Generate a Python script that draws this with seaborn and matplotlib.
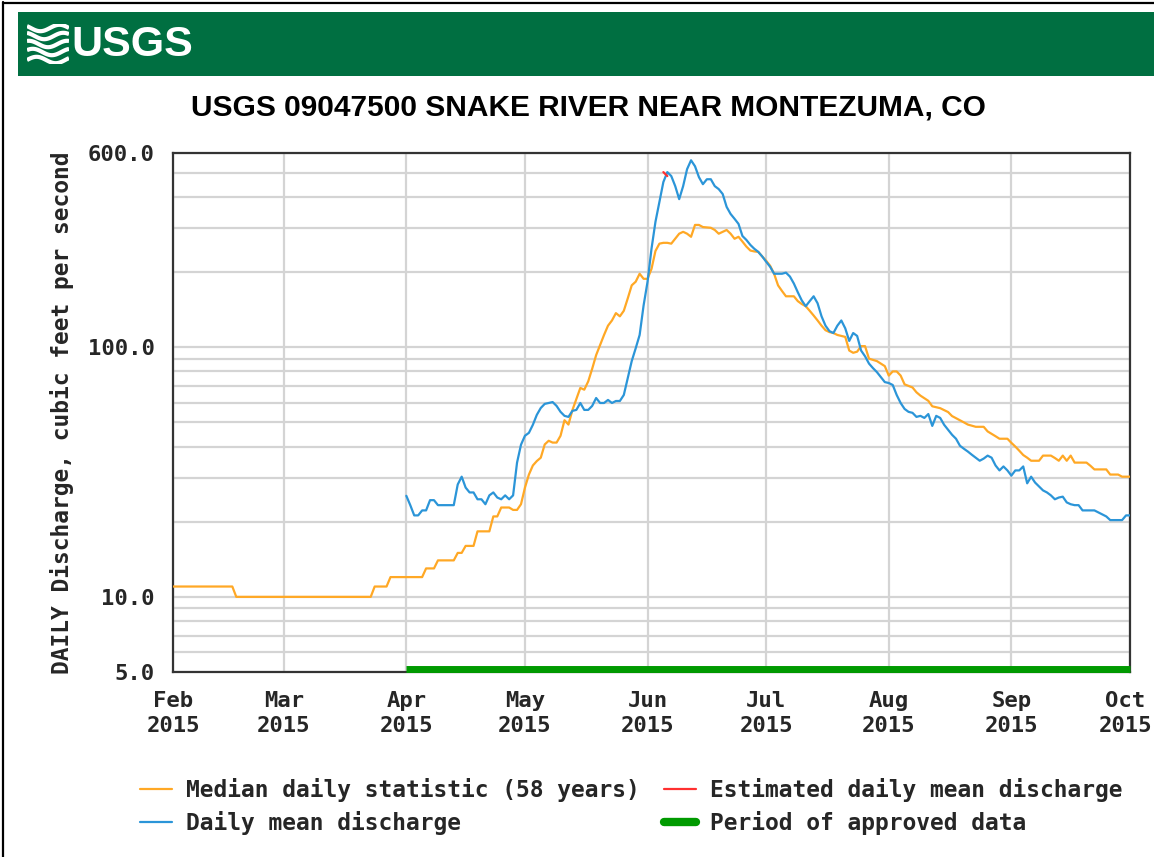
import numpy as np
import pandas as pd
import matplotlib
matplotlib.use("Agg")
import matplotlib.pyplot as plt
import matplotlib.transforms as mtransforms
import seaborn as sns
from matplotlib.lines import Line2D
from matplotlib.patches import Rectangle
from matplotlib.ticker import FixedLocator, NullFormatter

# ---------------- data ----------------
median_start = "2015-02-01"
median_cfs = [
    11, 11, 11, 11, 11, 11, 11, 11, 11, 11, 11, 11, 11, 11, 11, 11,
    10, 10, 10, 10, 10, 10, 10, 10, 10, 10, 10, 10, 10, 10, 10, 10, 10, 10,
    10, 10, 10, 10, 10, 10, 10, 10, 10, 10, 10, 10, 10, 10, 10, 10, 10,
    11, 11, 11, 11,
    12, 12, 12, 12, 12, 12, 12, 12, 12,
    13, 13, 13, 14, 14, 14, 14, 14, 15, 15, 16, 16, 16,
    18.3, 18.3, 18.3, 18.3, 21, 21, 22.8, 22.8, 22.8, 22.3, 22.3,
    23.5, 27.4, 30.9, 33.6, 35, 36.1, 40.8, 42.2, 41.5, 41.5, 44.2,
    51, 49, 56, 62, 68.7, 67.6, 73, 82, 93, 102, 112, 122, 128, 137,
    133, 140, 157, 177, 183, 197, 188, 188, 206, 243, 260, 262, 262,
    260, 272, 285, 290, 285, 277, 309, 309, 303, 302, 301, 295, 285,
    290, 295, 285, 272, 277, 265, 253, 244, 242, 241, 231, 222, 212,
    197, 177, 168, 160, 160, 160, 153, 149, 146, 140, 134, 128, 122,
    117, 115, 114, 112, 111, 110, 97, 95, 96, 101, 101, 90, 89, 88,
    86, 84, 77, 80, 80, 77, 71, 70, 69, 66, 64, 62.5, 61, 58, 57.5,
    57, 56, 55, 53, 52, 51, 50, 49, 48.5, 48, 48, 48, 46, 45, 44, 43,
    43, 43, 41.4, 40, 38.5, 37, 36.1, 35.1, 35.1, 35.1, 36.8, 36.8,
    36.8, 36, 35.1, 36.8, 35.1, 36.8, 34.5, 34.5, 34.5, 34.5, 33.5,
    32.4, 32.4, 32.4, 32.4, 30.9, 30.9, 30.9, 30.3, 30.3, 30.3,
]

daily_start = "2015-04-01"
daily_cfs = [
    25.4, 23.3, 21.2, 21.2, 22.2, 22.2, 24.4, 24.4, 23.3, 23.3, 23.3,
    23.3, 23.3, 28.2, 30.3, 27.4, 26.2, 26.2, 24.6, 24.6, 23.5, 25.5,
    26.2, 25.0, 24.6, 25.5, 24.6, 25.5, 34.5, 40.7, 44.2, 45.4, 48.9,
    53.6, 57.1, 59.3, 59.8, 60.3, 58.2, 55.1, 53.1, 52.6, 55.6, 56.1,
    59.8, 56.1, 56.1, 58.2, 62.6, 59.8, 59.8, 61.5, 59.8, 60.9, 60.9,
    64.4, 75.2, 88, 99, 112, 147, 183, 248, 318, 382, 459, 503, 485,
    442, 392, 442, 517, 561, 531, 480, 450, 471, 471, 442, 430, 411,
    365, 342, 327, 312, 279, 269, 257, 248, 241, 231, 220, 210, 197,
    197, 197, 199, 192, 180, 166, 154, 146, 153, 160, 150, 133, 122,
    116, 114, 122, 128, 119, 106, 114, 111, 97, 92, 86, 82.5, 79.5,
    75.9, 72.5, 71.9, 70.6, 64.4, 59.8, 56.6, 55.1, 54.6, 52.6, 53.1,
    52.1, 54.0, 48.4, 53.1, 52.1, 48.9, 46.7, 44.6, 43.0, 40.3, 39.2,
    38.2, 37.1, 36.1, 35.1, 35.8, 36.8, 36.1, 33.6, 32.1, 33.3, 32.1,
    30.6, 32.1, 32.1, 33.3, 28.5, 30.3, 28.7, 27.7, 26.7, 26.2, 25.5,
    24.6, 25.0, 25.2, 23.9, 23.5, 23.3, 23.3, 22.2, 22.2, 22.2, 22.2,
    21.8, 21.4, 21.0, 20.3, 20.3, 20.3, 20.3, 21.2, 21.2,
]

estimated_dates = ["2015-06-05", "2015-06-06"]
estimated_cfs = [503, 485]

approved_period = ["2015-04-01", "2015-10-01"]

month_ticks = ["2015-02-01", "2015-03-01", "2015-04-01", "2015-05-01",
               "2015-06-01", "2015-07-01", "2015-08-01", "2015-09-01",
               "2015-10-01"]
month_labels = ["Feb\n2015", "Mar\n2015", "Apr\n2015", "May\n2015",
                "Jun\n2015", "Jul\n2015", "Aug\n2015", "Sep\n2015",
                "Oct\n2015"]
ytick_vals = [5, 10, 100, 600]
ytick_labels = ["5.0", "10.0", "100.0", "600.0"]

title = "USGS 09047500 SNAKE RIVER NEAR MONTEZUMA, CO"
ylabel = "DAILY Discharge, cubic feet per second"
legend_labels = ["Median daily statistic (58 years)", "Daily mean discharge",
                 "Estimated daily mean discharge", "Period of approved data"]

# ---------------- colours / style ----------------
C_MED = "#ffa825"
C_DAY = "#2b95d8"
C_EST = "#ff3030"
C_APP = "#009a00"
C_HDR = "#006f41"
C_GRID = "#d4d4d4"

sns.set_style("white")
MONO = ["DejaVu Sans Mono", "DejaVu Sans"]
SANS = ["Liberation Sans", "DejaVu Sans"]
plt.rcParams["font.family"] = MONO

W, H = 1154, 857
fig = plt.figure(figsize=(W / 100, H / 100), dpi=100)
fig.patch.set_facecolor("white")

# outer border (left / top)
fig.add_artist(Line2D([2.5 / W, 2.5 / W], [0, 1 - 1.5 / H], transform=fig.transFigure,
                      color="black", lw=1.6))
fig.add_artist(Line2D([2.5 / W, 1], [1 - 2.5 / H, 1 - 2.5 / H], transform=fig.transFigure,
                      color="black", lw=1.6))

# header band
hdr = Rectangle((18 / W, 1 - 76 / H), (W - 18) / W, 64 / H,
                transform=fig.transFigure, facecolor=C_HDR, edgecolor="none", zorder=-5)
fig.add_artist(hdr)
fig.text(71 / W, 1 - 45 / H, "USGS", color="white", fontsize=31, fontweight="bold",
         family=SANS, ha="left", va="center")
# wave logo
lax = fig.add_axes([27 / W, 1 - 64 / H, 42 / W, 40 / H], zorder=5)
lax.set_axis_off()
lax.patch.set_alpha(0)
tt = np.linspace(0, 1, 60)
for k in range(5):
    base = 0.1 + k * 0.2
    lax.plot(tt, base + 0.08 * np.sin(2 * np.pi * (tt * 1.1 + k * 0.1)), color="white",
             lw=3.0, solid_capstyle="butt")
lax.set_xlim(0, 1)
lax.set_ylim(0, 1)

# title
fig.text(588 / W, 1 - 108 / H, title, fontsize=21.5, fontweight="bold", family=SANS,
         ha="center", va="center", color="black")

# ---------------- main axes ----------------
L, R, T, B = 173, 1130, 153, 672
ax = fig.add_axes([L / W, 1 - B / H, (R - L) / W, (B - T) / H])

med_df = pd.DataFrame({"date": pd.date_range(median_start, periods=len(median_cfs), freq="D"),
                       "cfs": median_cfs})
day_df = pd.DataFrame({"date": pd.date_range(daily_start, periods=len(daily_cfs), freq="D"),
                       "cfs": daily_cfs})
est_df = pd.DataFrame({"date": pd.to_datetime(estimated_dates), "cfs": estimated_cfs})

ax.set_yscale("log")
sns.lineplot(data=med_df, x="date", y="cfs", ax=ax, color=C_MED, lw=1.6, zorder=3)
sns.lineplot(data=day_df, x="date", y="cfs", ax=ax, color=C_DAY, lw=1.6, zorder=4)
sns.lineplot(data=est_df, x="date", y="cfs", ax=ax, color=C_EST, lw=1.6, zorder=5)

ap = pd.to_datetime(approved_period)
ax.hlines(0.006, ap[0], ap[1], transform=ax.get_xaxis_transform(), color=C_APP,
          lw=5, zorder=6, clip_on=False)

xt = pd.to_datetime(month_ticks)
ax.set_xlim(xt[0], xt[-1])
ax.set_ylim(5, 600)
ax.set_xticks(xt)
ax.set_xticklabels(month_labels)
ax.yaxis.set_major_locator(FixedLocator(ytick_vals))
ax.set_yticklabels(ytick_labels)
minor = [6, 7, 8, 9, 20, 30, 40, 50, 60, 70, 80, 90, 200, 300, 400, 500]
ax.yaxis.set_minor_locator(FixedLocator(minor))
ax.yaxis.set_minor_formatter(NullFormatter())

ax.grid(True, which="both", axis="y", color=C_GRID, lw=1.6, zorder=0)
ax.grid(True, which="major", axis="x", color=C_GRID, lw=1.6, zorder=0)
ax.set_axisbelow(True)
ax.tick_params(axis="both", which="both", length=0)
ax.tick_params(axis="x", pad=14, labelsize=16)
ax.tick_params(axis="y", pad=13, labelsize=16)
for lab in ax.get_xticklabels() + ax.get_yticklabels():
    lab.set_fontweight("bold")
    lab.set_linespacing(1.3)
# keep the last x label inside the picture
last = ax.get_xticklabels()[-1]
last.set_transform(last.get_transform() +
                   mtransforms.ScaledTranslation(-5 / 100, 0, fig.dpi_scale_trans))
ax.set_xlabel("")
ax.set_ylabel(ylabel, fontsize=16.5, fontweight="bold", labelpad=10)
for s in ax.spines.values():
    s.set_color("#333333")
    s.set_linewidth(1.6)
    s.set_visible(True)

# ---------------- legend ----------------
handles = [Line2D([], [], color=C_MED, lw=1.6),
           Line2D([], [], color=C_DAY, lw=1.6),
           Line2D([], [], color=C_EST, lw=1.6),
           Line2D([], [], color=C_APP, lw=6)]
leg = fig.legend(handles, legend_labels, ncol=2, loc="upper left",
                 bbox_to_anchor=(140 / W, 1 - 778 / H), frameon=False,
                 prop={"family": MONO, "weight": "bold", "size": 16.5},
                 handlelength=1.4, handletextpad=0.6, columnspacing=1.08,
                 labelspacing=0.4, borderaxespad=0, borderpad=0)

fig.savefig("out.png", dpi=100, facecolor="white")
